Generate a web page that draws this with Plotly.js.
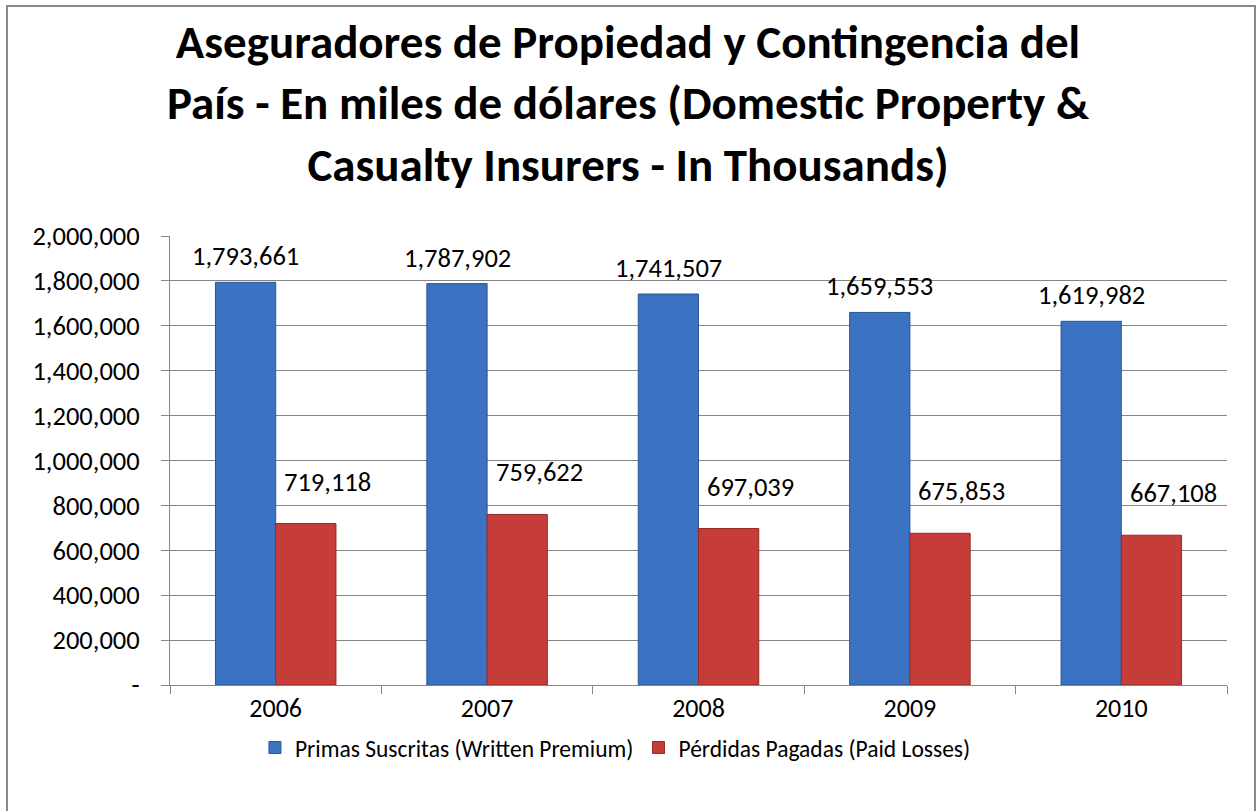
<!DOCTYPE html>
<html>
<head>
<meta charset="utf-8">
<script src="https://cdn.plot.ly/plotly-3.0.1.min.js"></script>
<style>
  html, body { margin: 0; padding: 0; background: #fff; }
  #wrap { position: relative; width: 1256px; height: 811px; }
  #chart { width: 1256px; height: 811px; }
  #frame { position: absolute; left: 6px; top: 5px; width: 1250px; height: 810px;
           border: 2px solid #8a8a8a; box-sizing: border-box; pointer-events: none; }
</style>
</head>
<body>
<div id="wrap">
  <div id="chart"></div>
  <div id="frame"></div>
</div>
<script>
const years = ['2006', '2007', '2008', '2009', '2010'];
const writtenPremium = [1793661, 1787902, 1741507, 1659553, 1619982];
const paidLosses = [719118, 759622, 697039, 675853, 667108];
const seriesNames = ['Primas Suscritas (Written Premium)', 'Pérdidas Pagadas (Paid Losses)'];
const yTickVals = [0, 200000, 400000, 600000, 800000, 1000000, 1200000, 1400000, 1600000, 1800000, 2000000];
const yTickText = ['-', '200,000', '400,000', '600,000', '800,000', '1,000,000', '1,200,000', '1,400,000', '1,600,000', '1,800,000', '2,000,000'];
const titleText = 'Aseguradores de Propiedad y Contingencia del<br>País - En miles de dólares (Domestic Property &amp;<br>Casualty Insurers - In Thousands)';

const FONT = 'Carlito, Lato, "Open Sans", sans-serif';
const fmt = v => v.toLocaleString('en-US');

const traces = [
  {
    type: 'bar', name: seriesNames[0], x: years, y: writtenPremium,
    marker: { color: '#3B73C2', line: { color: '#2A5596', width: 1 } },
    hoverinfo: 'skip'
  },
  {
    type: 'bar', name: seriesNames[1], x: years, y: paidLosses,
    marker: { color: '#C63C39', line: { color: '#962A28', width: 1 } },
    hoverinfo: 'skip'
  }
];

const annotations = [];
years.forEach((yr, i) => {
  annotations.push({
    x: i, y: writtenPremium[i], xref: 'x', yref: 'y',
    text: fmt(writtenPremium[i]), showarrow: false,
    xshift: -30, yshift: 26, yanchor: 'middle',
    font: { family: FONT, size: 26.5, color: '#000' }
  });
  annotations.push({
    x: i, y: paidLosses[i], xref: 'x', yref: 'y',
    text: fmt(paidLosses[i]), showarrow: false,
    xshift: 52, yshift: 42, yanchor: 'middle',
    font: { family: FONT, size: 26.5, color: '#000' }
  });
});

const layout = {
  width: 1256, height: 811,
  paper_bgcolor: '#fff', plot_bgcolor: '#fff',
  margin: { l: 170, r: 29, t: 236, b: 126 },
  font: { family: FONT, color: '#000' },
  title: {
    text: titleText,
    font: { family: FONT, size: 47, color: '#000', weight: 'bold' },
    x: 0.5, xanchor: 'center', xref: 'container',
    y: 0.928, yanchor: 'top', yref: 'container'
  },
  barmode: 'group', bargap: 0.43, bargroupgap: 0,
  xaxis: {
    type: 'category',
    showline: true, linecolor: '#868686', linewidth: 1,
    ticks: 'outside', tickson: 'boundaries', ticklen: 8, tickcolor: '#868686',
    tickfont: { family: FONT, size: 26, color: '#000' },
    tickangle: 0,
    showgrid: false, zeroline: false
  },
  yaxis: {
    range: [0, 2000000], tickvals: yTickVals, ticktext: yTickText,
    showline: true, linecolor: '#868686', linewidth: 1,
    ticks: 'outside', ticklen: 8, tickcolor: '#868686',
    ticklabelstandoff: 16,
    tickfont: { family: FONT, size: 26.5, color: '#000' },
    showgrid: true, gridcolor: '#868686', gridwidth: 1, zeroline: false
  },
  showlegend: true,
  legend: {
    orientation: 'h', xref: 'container', yref: 'container',
    x: 0.49, xanchor: 'center', y: 0.078, yanchor: 'middle',
    font: { family: FONT, size: 23.5, color: '#000' },
    itemwidth: 30, tracegroupgap: 0
  },
  annotations: annotations
};

Plotly.newPlot('chart', traces, layout, { displayModeBar: false, staticPlot: true });
</script>
</body>
</html>
